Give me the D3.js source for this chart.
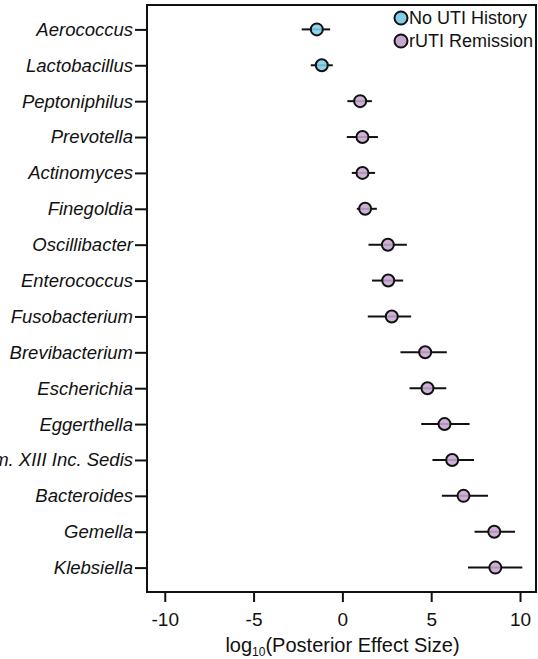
<!DOCTYPE html>
<html>
<head>
<meta charset="utf-8">
<script src="https://cdn.jsdelivr.net/npm/d3@7"></script>
<style>
  body { margin: 0; background: #fff; }
  svg { font-family: "Liberation Sans", Arial, sans-serif; }
</style>
</head>
<body>
<svg id="chart" width="538" height="659"></svg>
<script>
// genus names, top to bottom
const genera = ["Aerococcus", "Lactobacillus", "Peptoniphilus", "Prevotella", "Actinomyces",
  "Finegoldia", "Oscillibacter", "Enterococcus", "Fusobacterium", "Brevibacterium",
  "Escherichia", "Eggerthella", "Fam. XIII Inc. Sedis", "Bacteroides", "Gemella", "Klebsiella"];
// log10 posterior effect size (point estimate, lower, upper)
const effect = [-1.44, -1.16, 1.0, 1.13, 1.13, 1.28, 2.56, 2.58, 2.78, 4.66, 4.79, 5.75, 6.18, 6.82, 8.55, 8.61];
const lower  = [-2.29, -1.78, 0.28, 0.25, 0.53, 0.81, 1.47, 1.67, 1.43, 3.27, 3.78, 4.44, 5.07, 5.6, 7.44, 7.07];
const upper  = [-0.69, -0.54, 1.66, 2.0, 1.84, 1.94, 3.63, 3.42, 3.87, 5.88, 5.85, 7.16, 7.41, 8.2, 9.72, 10.13];
const group  = ["none", "none", "rem", "rem", "rem", "rem", "rem", "rem", "rem", "rem", "rem", "rem", "rem", "rem", "rem", "rem"];
const xTicks = [-10, -5, 0, 5, 10];
const groups = ["none", "rem"];
const groupLabels = ["No UTI History", "rUTI Remission"];
const groupColors = ["#83cdea", "#c6a7d0"];

const svg = d3.select("#chart");
const plotL = 147, plotR = 536, plotT = 5, plotB = 592;

const x = d3.scaleLinear().domain([-11, 10.9]).range([plotL, plotR]);
const y = d3.scalePoint().domain(genera).range([plotT, plotB]).padding(0.68);
const color = d3.scaleOrdinal().domain(groups).range(groupColors);

const rows = genera.map((g, i) => ({ name: g, v: effect[i], lo: lower[i], hi: upper[i], grp: group[i] }));

// frame
svg.append("rect")
  .attr("x", plotL).attr("y", plotT)
  .attr("width", plotR - plotL).attr("height", plotB - plotT)
  .attr("fill", "none").attr("stroke", "#111").attr("stroke-width", 2);

// x axis (plain hyphen for negatives, like the original)
const xAxis = svg.append("g")
  .attr("transform", `translate(0,${plotB})`)
  .call(d3.axisBottom(x).tickValues(xTicks).tickFormat(d => String(d))
    .tickSize(10).tickPadding(11).tickSizeOuter(0));
xAxis.select(".domain").remove();
xAxis.selectAll("line").attr("stroke", "#111").attr("stroke-width", 2);
xAxis.selectAll("text").attr("font-size", 19).attr("fill", "#111")
  .style("font-family", "Liberation Sans, Arial, sans-serif");

// y axis
const yAxis = svg.append("g")
  .attr("transform", `translate(${plotL},0)`)
  .call(d3.axisLeft(y).tickSize(12).tickPadding(2).tickSizeOuter(0));
yAxis.select(".domain").remove();
yAxis.selectAll("line").attr("stroke", "#111").attr("stroke-width", 2);
yAxis.selectAll("text").attr("font-size", 18.5).attr("font-style", "italic").attr("fill", "#111")
  .style("font-family", "Liberation Sans, Arial, sans-serif");

// error bars
svg.append("g").selectAll("line")
  .data(rows).join("line")
  .attr("x1", d => x(d.lo)).attr("x2", d => x(d.hi))
  .attr("y1", d => y(d.name)).attr("y2", d => y(d.name))
  .attr("stroke", "#111").attr("stroke-width", 2);

// points
svg.append("g").selectAll("circle")
  .data(rows).join("circle")
  .attr("cx", d => x(d.v)).attr("cy", d => y(d.name))
  .attr("r", 6)
  .attr("fill", d => color(d.grp)).attr("fill-opacity", 0.88)
  .attr("stroke", "#111").attr("stroke-width", 2);

// x title
const title = svg.append("text")
  .attr("x", (plotL + plotR) / 2 + 1).attr("y", 652)
  .attr("text-anchor", "middle").attr("font-size", 20).attr("fill", "#111");
title.append("tspan").text("log");
title.append("tspan").attr("font-size", 12).attr("dy", 4).text("10");
title.append("tspan").attr("dy", -4).text("(Posterior Effect Size)");

// legend
const legend = svg.append("g").selectAll("g")
  .data(groups).join("g")
  .attr("transform", (d, i) => `translate(401,${18 + i * 23})`);
legend.append("circle").attr("r", 6.5)
  .attr("fill", d => color(d)).attr("stroke", "#111").attr("stroke-width", 2);
legend.append("text").attr("x", 8).attr("y", 6)
  .attr("font-size", 18).attr("fill", "#111")
  .text((d, i) => groupLabels[i]);
</script>
</body>
</html>
